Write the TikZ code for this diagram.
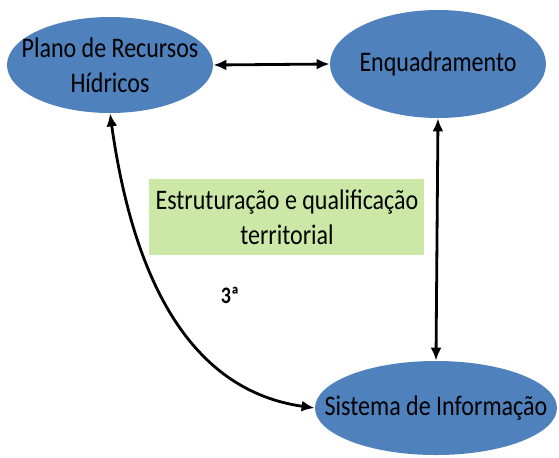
\documentclass[tikz,border=0pt]{standalone}
\usepackage{fontspec}
\setmainfont{Carlito}
\usetikzlibrary{shapes.geometric,arrows.meta}
\definecolor{elipseazul}{RGB}{79,129,189}
\definecolor{verdeclaro}{RGB}{204,232,166}
\tikzset{
	elipse/.style={ellipse, fill=elipseazul, inner sep=0pt},
	rotulo/.style={inner sep=0pt, align=center, yscale=1.18, transform shape, font=\fontsize{12}{15}\selectfont},
	caixa/.style={rectangle, fill=verdeclaro, inner sep=0pt},
	seta/.style={{Latex[length=6.5pt,width=5.5pt]}-{Latex[length=6.5pt,width=5.5pt]}, line width=1.4pt}
}
\begin{document}
\begin{tikzpicture}[x=0.5pt,y=-0.5pt]
				\useasboundingbox (0,0) rectangle (559,457);
				
				\node[elipse, minimum width=103pt, minimum height=48pt] (plano) at (110,65) {};
				\node[elipse, minimum width=108pt, minimum height=54pt] (enq) at (438,64) {};
				\node[elipse, minimum width=121pt, minimum height=47pt] (sis) at (436,408) {};
				\node[caixa, minimum width=137.5pt, minimum height=38pt] (estr) at (287,217) {};
				
				\node[rotulo] (planotxt) at (plano) {Plano de Recursos\\Hídricos};
				\node[rotulo] (enqtxt) at (enq) {Enquadramento};
				\node[rotulo] (sistxt) at (sis) {Sistema de Informação};
				\node[rotulo] (estrtxt) at (estr) {Estruturação e qualificação\\territorial};
				\node[rotulo, font=\fontsize{10}{12}\selectfont\bfseries] (terc) at (230,295) {3ª};
				
				\draw[seta] (plano.east) -- (enq.west);
				\draw[seta] (enq.south) -- (sis.north);
				\draw[seta] (plano.south) to[out=-82,in=172] (sis.west);
			\end{tikzpicture}
\end{document}
